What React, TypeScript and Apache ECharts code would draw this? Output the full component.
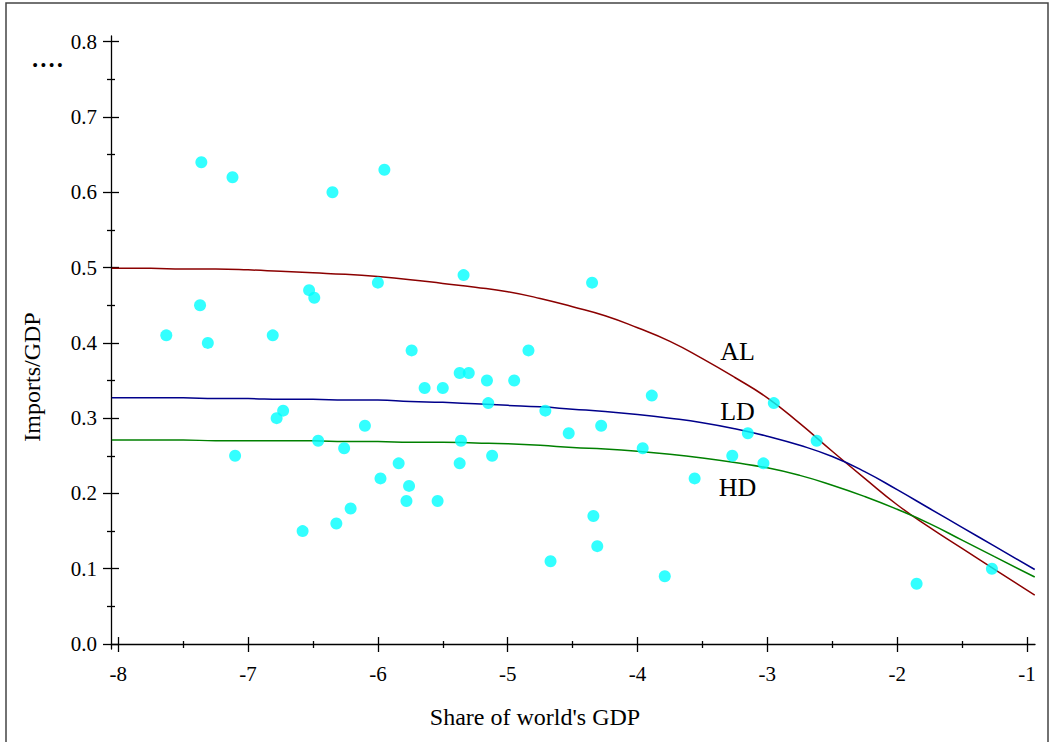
import React, { useEffect, useRef } from "react";
import * as echarts from "echarts";

// ---- data ----
const curveX = [
  -8.05, -7.75, -7.5, -7.25, -7, -6.75, -6.5, -6.25, -6, -5.75, -5.5, -5.25, -5, -4.75,
  -4.5, -4.25, -4, -3.75, -3.5, -3.25, -3, -2.75, -2.5, -2.25, -2, -1.75, -1.5, -1.25, -0.94,
];
const alValues = [
  0.499, 0.499, 0.498, 0.498, 0.497, 0.495, 0.493, 0.491, 0.488, 0.484, 0.479, 0.474, 0.468, 0.459,
  0.448, 0.436, 0.42, 0.402, 0.379, 0.354, 0.327, 0.293, 0.256, 0.22, 0.185, 0.155, 0.127, 0.099, 0.065,
];
const ldValues = [
  0.327, 0.327, 0.327, 0.326, 0.326, 0.325, 0.325, 0.324, 0.324, 0.322, 0.321, 0.319, 0.317, 0.315,
  0.312, 0.309, 0.305, 0.3, 0.294, 0.286, 0.276, 0.264, 0.249, 0.229, 0.205, 0.18, 0.155, 0.13, 0.099,
];
const hdValues = [
  0.271, 0.271, 0.271, 0.27, 0.27, 0.27, 0.27, 0.269, 0.269, 0.268, 0.268, 0.267, 0.266, 0.264,
  0.261, 0.259, 0.256, 0.252, 0.247, 0.241, 0.234, 0.224, 0.211, 0.196, 0.179, 0.16, 0.138, 0.116, 0.089,
];

const pointX = [
  -7.63, -7.36, -7.37, -7.31, -7.12, -7.10, -6.81, -6.78, -6.73, -6.58,
  -6.53, -6.49, -6.46, -6.35, -6.32, -6.26, -6.21, -6.10, -6.00, -5.98,
  -5.95, -5.84, -5.78, -5.76, -5.74, -5.64, -5.54, -5.50, -5.37, -5.37,
  -5.36, -5.34, -5.30, -5.16, -5.15, -5.12, -4.95, -4.84, -4.71, -4.67,
  -4.53, -4.35, -4.34, -4.31, -4.28, -3.96, -3.89, -3.79, -3.56, -3.27,
  -3.15, -3.03, -2.95, -2.62, -1.85, -1.27,
];
const pointY = [
  0.41, 0.64, 0.45, 0.40, 0.62, 0.25, 0.41, 0.30, 0.31, 0.15,
  0.47, 0.46, 0.27, 0.60, 0.16, 0.26, 0.18, 0.29, 0.48, 0.22,
  0.63, 0.24, 0.19, 0.21, 0.39, 0.34, 0.19, 0.34, 0.36, 0.24,
  0.27, 0.49, 0.36, 0.35, 0.32, 0.25, 0.35, 0.39, 0.31, 0.11,
  0.28, 0.48, 0.17, 0.13, 0.29, 0.26, 0.33, 0.09, 0.22, 0.25,
  0.28, 0.24, 0.32, 0.27, 0.08, 0.10,
];

const xMajorTicks = [-8, -7, -6, -5, -4, -3, -2, -1];
const xMinorTicks = [-7.5, -6.5, -5.5, -4.5, -3.5, -2.5, -1.5];
const yMajorTicks = [0, 0.1, 0.2, 0.3, 0.4, 0.5, 0.6, 0.7, 0.8];
const yMinorTicks = [0.05, 0.15, 0.25, 0.35, 0.45, 0.55, 0.65, 0.75];

const curveNames = ["AL", "LD", "HD"];
const curveColors = ["#8b0000", "#00008b", "#008000"];
const curveLabelAt = [
  [-3.23, 0.389],
  [-3.23, 0.309],
  [-3.23, 0.208],
];

const xTitle = "Share of world's GDP";
const yTitle = "Imports/GDP";
const topText = "....";

const FONT = "'Liberation Serif', 'Times New Roman', serif";

export default function App() {
  const ref = useRef<HTMLDivElement>(null);

  useEffect(() => {
    if (!ref.current) return;
    const chart = echarts.init(ref.current, null, { renderer: "svg" });

    const xMin = -8.056;
    const xMax = -0.938;
    const yMin = -0.0066;
    const yMax = 0.8076;
    const lineStyle = { color: "#000", width: 1.3 };

    const mkX = (ticks: number[], inside: boolean, len: number, main: boolean) => ({
      type: "value",
      position: "bottom",
      min: xMin,
      max: xMax,
      axisLine: { show: main, lineStyle },
      axisTick: { show: true, inside, length: len, customValues: ticks, lineStyle },
      axisLabel: main
        ? {
            show: true,
            customValues: xMajorTicks,
            margin: 14,
            color: "#000",
            fontSize: 21,
            fontFamily: FONT,
            formatter: (v: number) => String(Math.round(v)),
          }
        : { show: false },
      splitLine: { show: false },
    });
    const mkY = (ticks: number[], inside: boolean, len: number, main: boolean) => ({
      type: "value",
      position: "left",
      min: yMin,
      max: yMax,
      axisLine: { show: main, lineStyle },
      axisTick: { show: true, inside, length: len, customValues: ticks, lineStyle },
      axisLabel: main
        ? {
            show: true,
            customValues: yMajorTicks,
            margin: 14,
            color: "#000",
            fontSize: 21,
            fontFamily: FONT,
            formatter: (v: number) => v.toFixed(1),
          }
        : { show: false },
      splitLine: { show: false },
    });

    const lineSeries = [alValues, ldValues, hdValues].map((vals, i) => ({
      type: "line",
      name: curveNames[i],
      xAxisIndex: 0,
      yAxisIndex: 0,
      smooth: 0.5,
      showSymbol: false,
      symbol: "none",
      lineStyle: { color: curveColors[i], width: 1.5 },
      data: curveX.map((x, j) => [x, vals[j]]),
      z: 2,
      markPoint: {
        symbol: "circle",
        symbolSize: 0,
        label: {
          show: true,
          formatter: curveNames[i],
          color: "#000",
          fontSize: 26,
          fontFamily: FONT,
          position: "inside",
        },
        data: [{ coord: curveLabelAt[i], value: curveNames[i] }],
      },
    }));

    chart.setOption({
      animation: false,
      backgroundColor: "#fff",
      grid: { left: 111, right: 15, top: 36, bottom: 93, containLabel: false },
      xAxis: [
        mkX(xMajorTicks, false, 8, true),
        mkX(xMajorTicks, true, 7, false),
        mkX(xMinorTicks, false, 4, false),
        mkX(xMinorTicks, true, 3, false),
      ],
      yAxis: [
        mkY(yMajorTicks, false, 8, true),
        mkY(yMajorTicks, true, 8, false),
        mkY(yMinorTicks, false, 4, false),
        mkY(yMinorTicks, true, 4, false),
      ],
      series: [
        ...lineSeries,
        {
          type: "scatter",
          xAxisIndex: 0,
          yAxisIndex: 0,
          symbol: "circle",
          symbolSize: 12,
          itemStyle: { color: "#00ffff" },
          data: pointX.map((x, i) => [x, pointY[i]]),
          z: 3,
        },
      ],
      graphic: [
        {
          type: "rect",
          shape: { x: 6, y: 3, width: 1042, height: 780 },
          style: { fill: "none", stroke: "#444", lineWidth: 1.5 },
          silent: true,
        },
        {
          type: "text",
          x: 31,
          y: 39,
          style: { text: topText, fontSize: 33, fontFamily: FONT, fill: "#000" },
        },
        {
          type: "text",
          x: 535,
          y: 717,
          style: {
            text: xTitle,
            fontSize: 24,
            fontFamily: FONT,
            fill: "#000",
            align: "center",
            verticalAlign: "middle",
          },
        },
        {
          type: "text",
          x: 32,
          y: 377,
          rotation: Math.PI / 2,
          style: {
            text: yTitle,
            fontSize: 24,
            fontFamily: FONT,
            fill: "#000",
            align: "center",
            verticalAlign: "middle",
          },
        },
      ],
    });

    return () => chart.dispose();
  }, []);

  return (
    <div
      ref={ref}
      style={{ position: "absolute", left: 0, top: 0, width: 1050, height: 742, background: "#fff" }}
    />
  );
}
